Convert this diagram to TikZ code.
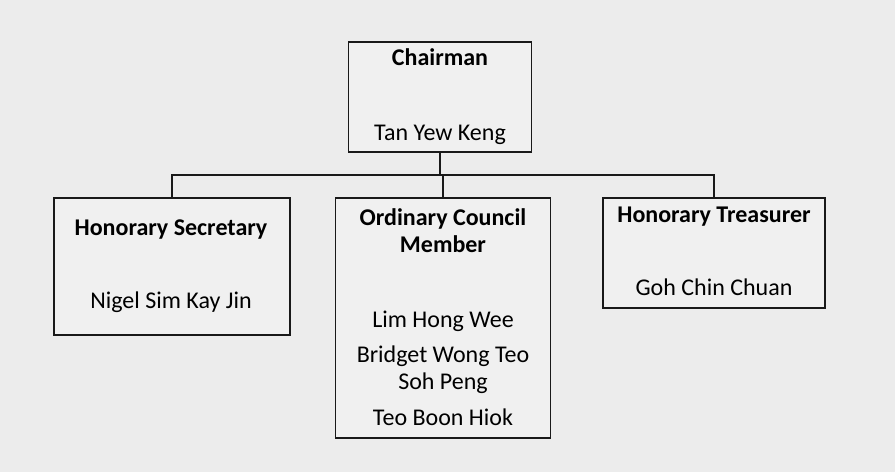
\documentclass[tikz,border=0pt]{standalone}
\usepackage{fontspec}
\setmainfont{Carlito}
\definecolor{bgc}{RGB}{236,236,236}
\definecolor{boxc}{RGB}{240,240,240}
\definecolor{linec}{RGB}{25,25,25}
\tikzset{
  orgbox/.style={draw=linec, fill=boxc, line width=1.7pt, inner sep=0pt, anchor=center},
  conn/.style={draw=linec, line width=1.7pt},
  ttl/.style={anchor=base, inner sep=0pt, font=\fontsize{24}{28}\selectfont\bfseries, text=black},
  nm/.style={anchor=base, inner sep=0pt, font=\fontsize{24}{28}\selectfont, text=black}
}
\begin{document}
\begin{tikzpicture}[x=1pt,y=-1pt]
\fill[bgc] (0,0) rectangle (895,472);
\useasboundingbox (0,0) rectangle (895,472);
% boxes
\node[orgbox, minimum width=183pt, minimum height=110pt] (chair) at (440,97) {};
\node[orgbox, minimum width=236pt, minimum height=137pt] (sec) at (172,266.5) {};
\node[orgbox, minimum width=215pt, minimum height=240pt] (mem) at (443,318) {};
\node[orgbox, minimum width=222pt, minimum height=110pt] (tre) at (714,253) {};
% connectors
\coordinate (bus) at (440,175);
\draw[conn] (chair.south) -- (chair.south |- bus);
\draw[conn] (sec.north) -- (sec.north |- bus) -- (tre.north |- bus) -- (tre.north);
\draw[conn] (mem.north) -- (mem.north |- bus);
% texts
\node[ttl] (chairT) at (440,65) {Chairman};
\node[nm] (chairN) at (440,140) {Tan Yew Keng};
\node[ttl] (secT) at (171,235) {Honorary Secretary};
\node[nm] (secN) at (171,308) {Nigel Sim Kay Jin};
\node[ttl] (treT) at (714,222) {Honorary Treasurer};
\node[nm] (treN) at (714,295) {Goh Chin Chuan};
\node[ttl] (memT1) at (443,225) {Ordinary Council};
\node[ttl] (memT2) at (443,252) {Member};
\node[nm] (memN1) at (443,327) {Lim Hong Wee};
\node[nm] (memN2) at (443,362) {Bridget Wong Teo};
\node[nm] (memN3) at (443,389) {Soh Peng};
\node[nm] (memN4) at (443,425) {Teo Boon Hiok};
\end{tikzpicture}
\end{document}
